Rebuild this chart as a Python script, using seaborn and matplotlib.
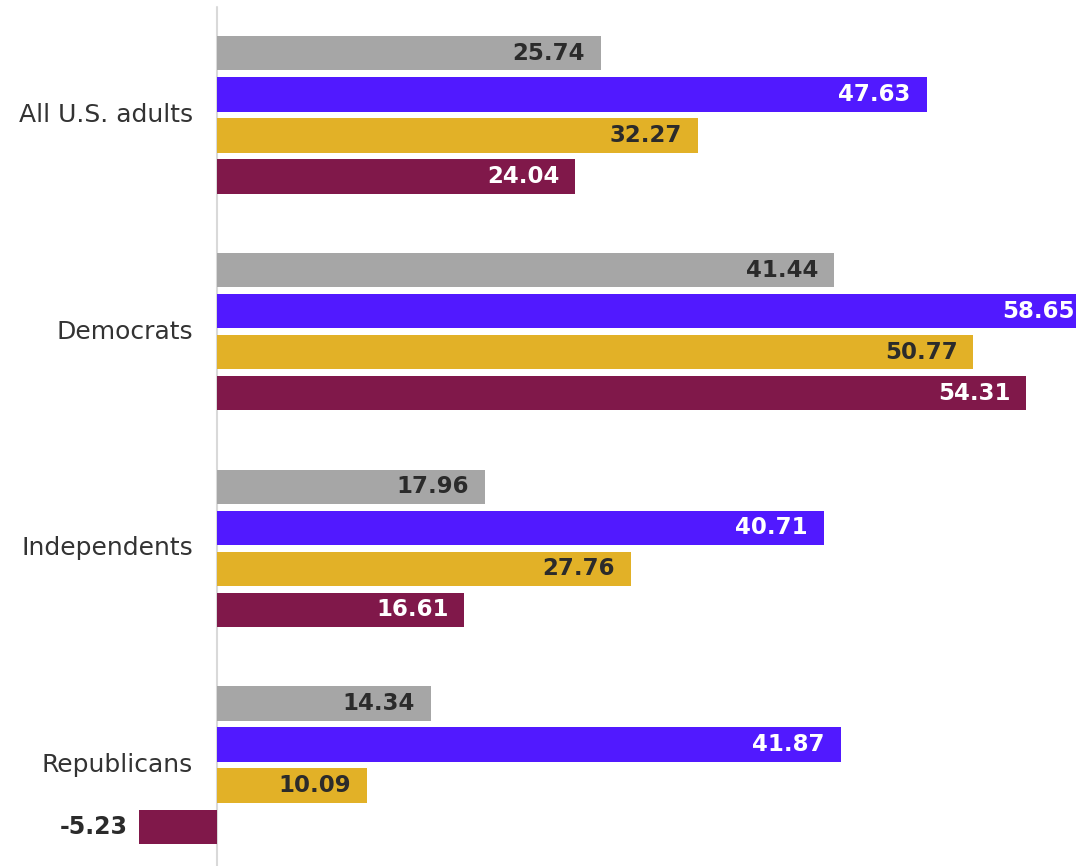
import matplotlib
matplotlib.use("Agg")
import matplotlib.pyplot as plt
import seaborn as sns
import pandas as pd

groups = ["All U.S. adults", "Democrats", "Independents", "Republicans"]
series = ["Series 1", "Series 2", "Series 3", "Series 4"]
series1 = [25.74, 41.44, 17.96, 14.34]
series2 = [47.63, 58.65, 40.71, 41.87]
series3 = [32.27, 50.77, 27.76, 10.09]
series4 = [24.04, 54.31, 16.61, -5.23]
colors = ["#a6a6a6", "#5119ff", "#e2b127", "#80184a"]
label_colors = ["#2b2b2b", "#ffffff", "#2b2b2b", "#ffffff"]

values = [series1, series2, series3, series4]
rows = []
for s, vals in zip(series, values):
    for g, v in zip(groups, vals):
        rows.append({"group": g, "series": s, "value": v})
df = pd.DataFrame(rows)

sns.set_theme(style="white")
plt.rcParams["font.family"] = ["DejaVu Sans"]

fig = plt.figure(figsize=(10.76, 8.66), dpi=100)
ax = fig.add_axes([0, 0, 1, 1])

sns.barplot(data=df, y="group", x="value", hue="series", orient="h",
            order=groups, hue_order=series, palette=colors,
            width=0.757, gap=0.17, legend=False, ax=ax,
            errorbar=None, saturation=1, linewidth=0)

px = 14.9  # pixels per data unit
ax.set_xlim(-217 / px, 859 / px)
ax.set_ylim(3 + 101 / 216.7, -115 / 216.7)
ax.set_axis_off()

ax.axvline(0, ymin=0, ymax=1 - 7 / 866, color="#d9d9d9", lw=1.5, zorder=0)

for i, g in enumerate(groups):
    ax.text(-24 / px, i, g, ha="right", va="center", fontsize=18,
            color="#333333")

for si, cont in enumerate(ax.containers):
    for bar, v in zip(cont.patches, values[si]):
        yc = bar.get_y() + bar.get_height() / 2
        if v >= 0:
            ax.text(v - 16 / px, yc, f"{v:.2f}", ha="right", va="center",
                    fontsize=16.5, fontweight="bold", color=label_colors[si])
        else:
            ax.text(v - 11 / px, yc, f"{v:.2f}", ha="right", va="center",
                    fontsize=17, fontweight="bold", color="#2b2b2b")

fig.savefig("out.png", dpi=100)
